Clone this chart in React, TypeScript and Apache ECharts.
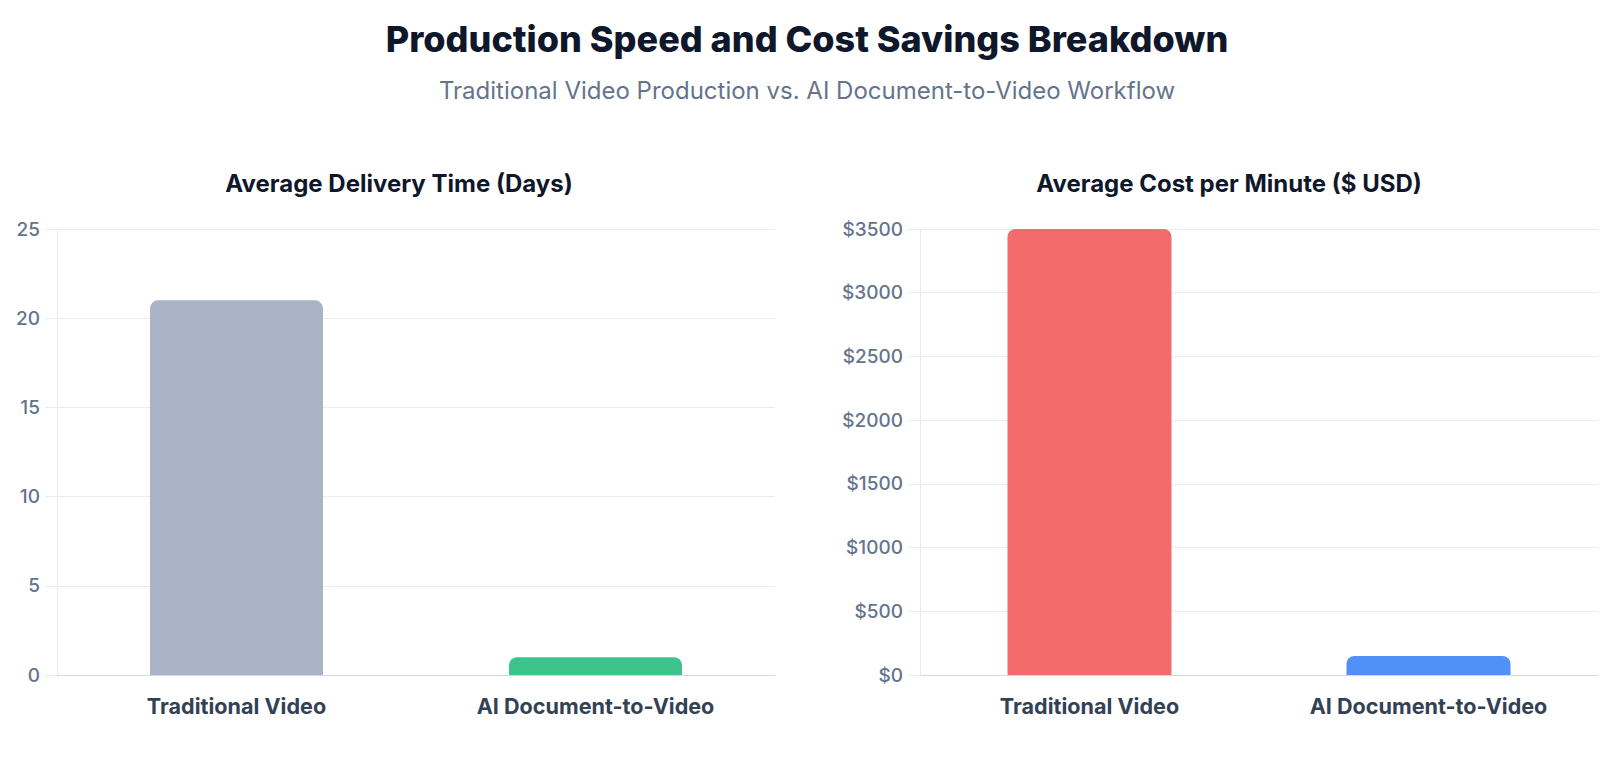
import { useEffect, useRef } from 'react';
import * as echarts from 'echarts';

const categories = ['Traditional Video', 'AI Document-to-Video'];
const deliveryDays = [21, 1];
const costPerMinute = [3500, 150];
const deliveryColors = ['#a9b5c7', '#3cc48c'];
const costColors = ['#f36b6b', '#5190f6'];

const FONT = 'Inter, "Noto Sans", sans-serif';

export default function App() {
  const chartRef = useRef<HTMLDivElement>(null);

  useEffect(() => {
    document.body.style.margin = '0';
    if (!chartRef.current) return;
    const chart = echarts.init(chartRef.current, undefined, { renderer: 'svg' });

    const gridColor = '#e8ecf2';
    const yAxisBase = {
      type: 'value' as const,
      min: 0,
      axisLine: { show: true, lineStyle: { color: gridColor } },
      axisTick: { show: true, length: 12, lineStyle: { color: gridColor } },
      splitLine: { lineStyle: { color: gridColor } },
      axisLabel: { color: '#64748b', fontSize: 19, fontWeight: 500, fontFamily: FONT, margin: 17 },
    };
    const xAxisBase = {
      type: 'category' as const,
      data: categories,
      axisLine: { lineStyle: { color: '#d3d9e2' } },
      axisTick: { show: false },
      axisLabel: { color: '#334155', fontSize: 21.6, fontWeight: 'bold', fontFamily: FONT, margin: 20 },
    };

    chart.setOption({
      animation: false,
      backgroundColor: '#ffffff',
      title: [
        {
          text: 'Production Speed and Cost Savings Breakdown',
          left: 'center',
          top: 16,
          textStyle: { color: '#0f172a', fontSize: 36, fontWeight: 800, fontFamily: FONT },
        },
        {
          text: 'Traditional Video Production vs. AI Document-to-Video Workflow',
          left: 'center',
          top: 73,
          textStyle: { color: '#64748b', fontSize: 24, fontWeight: 'normal', fontFamily: FONT },
        },
        {
          text: 'Average Delivery Time (Days)',
          left: 394,
          top: 166,
          textAlign: 'center',
          textStyle: { color: '#0f172a', fontSize: 24, fontWeight: 'bold', fontFamily: FONT },
        },
        {
          text: 'Average Cost per Minute ($ USD)',
          left: 1224,
          top: 166,
          textAlign: 'center',
          textStyle: { color: '#0f172a', fontSize: 24, fontWeight: 'bold', fontFamily: FONT },
        },
      ],
      grid: [
        { left: 57, top: 229, width: 718, height: 446 },
        { left: 920, top: 229, width: 678, height: 446 },
      ],
      xAxis: [
        { ...xAxisBase, gridIndex: 0 },
        { ...xAxisBase, gridIndex: 1 },
      ],
      yAxis: [
        { ...yAxisBase, gridIndex: 0, max: 25, interval: 5 },
        {
          ...yAxisBase,
          gridIndex: 1,
          max: 3500,
          interval: 500,
          axisLabel: { ...yAxisBase.axisLabel, formatter: (v: number) => '$' + v },
        },
      ],
      series: [
        {
          type: 'bar',
          xAxisIndex: 0,
          yAxisIndex: 0,
          barWidth: 173,
          data: deliveryDays.map((v, i) => ({ value: v, itemStyle: { color: deliveryColors[i] } })),
          itemStyle: { borderRadius: [8, 8, 0, 0] },
        },
        {
          type: 'bar',
          xAxisIndex: 1,
          yAxisIndex: 1,
          barWidth: 164,
          data: costPerMinute.map((v, i) => ({ value: v, itemStyle: { color: costColors[i] } })),
          itemStyle: { borderRadius: [8, 8, 0, 0] },
        },
      ],
    });

    return () => {
      chart.dispose();
    };
  }, []);

  return <div ref={chartRef} style={{ width: 1614, height: 772 }} />;
}
